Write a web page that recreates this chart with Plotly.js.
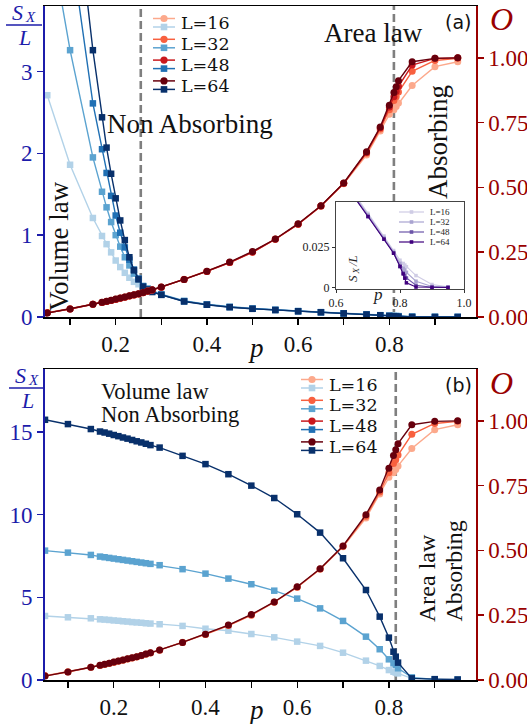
<!DOCTYPE html>
<html><head><meta charset="utf-8">
<script src="https://cdn.plot.ly/plotly-3.0.1.min.js"></script>
<style>html,body{margin:0;padding:0;background:#fff}</style>
</head><body><div id="chart" style="width:527px;height:724px"></div>
<script>
// ---------------- data ----------------
const p = [0.05, 0.1, 0.15, 0.17, 0.18, 0.19, 0.2, 0.21, 0.22, 0.23, 0.24, 0.25, 0.26, 0.27, 0.28,
           0.3, 0.35, 0.4, 0.45, 0.5, 0.55, 0.6, 0.65, 0.7, 0.75, 0.78, 0.8, 0.81, 0.815, 0.82, 0.85, 0.9, 0.95];
const seriesLabels = ['L=16', 'L=32', 'L=48', 'L=64'];

// order parameter O (both panels)
const O_L16 = [0.017, 0.032, 0.049, 0.057, 0.061, 0.065, 0.069, 0.073, 0.077, 0.081, 0.085, 0.09, 0.095, 0.1, 0.105,
               0.116, 0.146, 0.177, 0.211, 0.251, 0.301, 0.358, 0.427, 0.514, 0.625, 0.718, 0.782, 0.8, 0.812, 0.826, 0.893, 0.966, 0.985];
const O_L32 = [0.016, 0.031, 0.049, 0.056, 0.06, 0.064, 0.068, 0.072, 0.076, 0.081, 0.085, 0.089, 0.094, 0.099, 0.104,
               0.115, 0.145, 0.176, 0.21, 0.25, 0.3, 0.358, 0.428, 0.516, 0.632, 0.725, 0.8, 0.835, 0.85, 0.868, 0.948, 0.99, 0.998];
const O_L48 = [0.016, 0.031, 0.049, 0.056, 0.06, 0.064, 0.068, 0.072, 0.076, 0.081, 0.085, 0.089, 0.094, 0.099, 0.104,
               0.115, 0.145, 0.176, 0.21, 0.25, 0.3, 0.358, 0.428, 0.516, 0.635, 0.73, 0.81, 0.85, 0.87, 0.89, 0.972, 0.998, 1.0];
const O_L64 = [0.015, 0.031, 0.049, 0.057, 0.061, 0.065, 0.069, 0.073, 0.077, 0.082, 0.086, 0.09, 0.095, 0.1, 0.105,
               0.116, 0.145, 0.177, 0.212, 0.253, 0.301, 0.36, 0.429, 0.517, 0.638, 0.733, 0.817, 0.866, 0.888, 0.912, 0.985, 0.998, 1.0];

// panel (a): S_X/L
const Sa_L16 = [2.71, 1.86, 1.21, 0.99, 0.89, 0.79, 0.69, 0.61, 0.54, 0.48, 0.43, 0.4, 0.375, 0.35, 0.325,
                0.28, 0.2, 0.156, 0.125, 0.104, 0.088, 0.073, 0.06, 0.046, 0.032, 0.023, 0.017, 0.015, 0.014, 0.013, 0.0075, 0.002, 0.0005];
const Sa_L32 = [4.85, 3.26, 1.95, 1.53, 1.34, 1.16, 1.0, 0.86, 0.73, 0.63, 0.53, 0.46, 0.38, 0.345, 0.315,
                0.275, 0.195, 0.153, 0.123, 0.102, 0.087, 0.072, 0.059, 0.045, 0.031, 0.022, 0.015, 0.012, 0.011, 0.0095, 0.004, 0.0008, 0.0003];
const Sa_L48 = [7.6, 4.6, 2.61, 2.05, 1.76, 1.48, 1.24, 1.03, 0.85, 0.7, 0.58, 0.47, 0.375, 0.34, 0.31,
                0.272, 0.192, 0.151, 0.121, 0.101, 0.086, 0.071, 0.058, 0.044, 0.03, 0.0215, 0.013, 0.009, 0.0075, 0.006, 0.0015, 0.0003, 0.0002];
const Sa_L64 = [9.0, 5.7, 3.26, 2.44, 2.07, 1.75, 1.45, 1.18, 0.94, 0.73, 0.57, 0.46, 0.37, 0.335, 0.305,
                0.27, 0.19, 0.15, 0.12, 0.1, 0.085, 0.07, 0.058, 0.044, 0.03, 0.0213, 0.0132, 0.0085, 0.0059, 0.003, 0.0004, 0.0002, 0.0001];

// panel (b): S_X/L
const Sb_L16 = [3.87, 3.79, 3.73, 3.67, 3.65, 3.63, 3.6, 3.58, 3.55, 3.53, 3.5, 3.48, 3.46, 3.43, 3.41,
                3.37, 3.27, 3.1, 2.98, 2.78, 2.58, 2.32, 2.06, 1.65, 1.17, 0.85, 0.6, 0.5, 0.45, 0.4, 0.1, 0.05, 0.02];
const Sb_L32 = [7.82, 7.7, 7.56, 7.46, 7.42, 7.38, 7.34, 7.3, 7.26, 7.22, 7.18, 7.14, 7.1, 7.06, 7.02,
                6.94, 6.7, 6.43, 6.13, 5.79, 5.4, 4.92, 4.33, 3.57, 2.62, 1.86, 1.25, 1.01, 0.91, 0.71, 0.16, 0.03, 0.02];
const Sb_L64 = [15.73, 15.47, 15.17, 15.02, 14.96, 14.89, 14.81, 14.74, 14.66, 14.59, 14.51, 14.43, 14.36, 14.28, 14.2,
                14.05, 13.55, 13.05, 12.44, 11.75, 11.0, 10.02, 8.91, 7.36, 5.44, 3.83, 2.56, 1.71, 1.41, 1.05, 0.1, 0.05, 0.03];

const xTickLabels = ['0.2', '0.4', '0.6', '0.8'];
const oTicks = [0, 0.25, 0.5, 0.75, 1.0];
const oTickText = ['0.00', '0.25', '0.50', '0.75', '1.00'];
const pCritA = [0.255, 0.81];
const pCritB = [0.815];

// ---------------- styling ----------------
const REDS = ['#fca98c', '#f8603f', '#c9181d', '#67000d'];
const BLUES = ['#b2d2e8', '#5ba3d0', '#2070b4', '#08306b'];
const PURPLES = ['#cfcce5', '#a9a3d0', '#6c55a8', '#3f007d'];
const BLUE_AX = '#1c1caa';
const RED_AX = '#990000';
const SERIF = 'Liberation Serif, Times New Roman, serif';
const LEGSERIF = 'DejaVu Serif, serif';
const W = 527, H = 724, ML = 45, MR = 51, MT = 6, MB = 44;
const PW = W - ML - MR, PH = H - MT - MB;
const X = px => (px - ML) / PW;
const Y = py => (H - MB - py) / PH;

function tr(x, y, xa, ya, color, symbol, size, width) {
  return {x: x, y: y, xaxis: xa, yaxis: ya, type: 'scatter', mode: 'lines+markers',
    line: {color: color, width: width}, marker: {color: color, symbol: symbol, size: size, line: {width: 0}},
    showlegend: false, hoverinfo: 'skip', cliponaxis: true};
}

const OA = [O_L16, O_L32, O_L48, O_L64];
const SA = [Sa_L16, Sa_L32, Sa_L48, Sa_L64];
const traces = [];
SA.forEach((s, i) => traces.push(tr(p, s, 'x', 'y', BLUES[i], 'square', 6.5, 1.4)));
OA.forEach((o, i) => traces.push(tr(p, o, 'x', 'y2', REDS[i], 'circle', 7, 1.4)));
[[Sb_L16, 0], [Sb_L32, 1], [Sb_L64, 3]].forEach(([s, i]) => traces.push(tr(p, s, 'x2', 'y3', BLUES[i], 'square', 6.5, 1.4)));
[[O_L16, 0], [O_L32, 1], [O_L64, 3]].forEach(([o, i]) => traces.push(tr(p, o, 'x2', 'y4', REDS[i], 'circle', 7, 1.4)));
SA.forEach((s, i) => traces.push(tr(p, s, 'x3', 'y5', PURPLES[i], 'square', 3.5, 1.1)));

function xax(domain, anchor, range) {
  return {domain: domain, anchor: anchor, range: range, tickmode: 'array', tickvals: xTickLabels.map(Number), ticktext: xTickLabels,
    ticks: 'outside', ticklen: 6, tickwidth: 1.3, tickcolor: '#000',
    minor: {dtick: 0.1, tick0: 0, ticks: 'outside', ticklen: 6, tickwidth: 1.3, tickcolor: '#000', showgrid: false},
    showline: true, linecolor: '#000', linewidth: 1.5,
    mirror: true, showgrid: false, zeroline: false, tickfont: {family: SERIF, size: 23, color: '#111'}, fixedrange: true};
}
function yl(domain, anchor, range, tv) {
  return {domain: domain, anchor: anchor, range: range, tickmode: 'array', tickvals: tv,
    ticks: 'outside', ticklen: 6, tickwidth: 1.5, tickcolor: BLUE_AX, showline: true, linecolor: BLUE_AX, linewidth: 2,
    showgrid: false, zeroline: false, tickfont: {family: SERIF, size: 23, color: BLUE_AX}, fixedrange: true};
}
function yr(over, anchor) {
  return {overlaying: over, anchor: anchor, side: 'right', range: [0, 1.2], tickmode: 'array', tickvals: oTicks, ticktext: oTickText,
    ticks: 'outside', ticklen: 6, tickwidth: 1.5, tickcolor: RED_AX, showline: true, linecolor: RED_AX, linewidth: 1.6,
    showgrid: false, zeroline: false, tickfont: {family: SERIF, size: 23, color: RED_AX}, fixedrange: true};
}

const domA = [Y(317), 1], domB = [0, Y(369)];
const layout = {
  width: W, height: H, margin: {l: ML, r: MR, t: MT, b: MB, pad: 0}, showlegend: false,
  paper_bgcolor: '#fff', plot_bgcolor: 'rgba(0,0,0,0)',
  xaxis: xax([0, 1], 'y', [0.045, 0.99]),
  yaxis: yl(domA, 'x', [0, 3.8], [0, 1, 2, 3]),
  yaxis2: yr('y', 'x'),
  xaxis2: xax([0, 1], 'y3', [0.05, 0.99]),
  yaxis3: yl(domB, 'x2', [0, 18.8], [0, 5, 10, 15]),
  yaxis4: yr('y3', 'x2'),
  xaxis3: {domain: [X(336), X(464)], anchor: 'y5', range: [0.6, 1.0], tickmode: 'array', tickvals: [0.6, 0.8, 1.0],
    ticktext: ['0.6', '0.8', '1.0'], ticks: 'outside', ticklen: 3, tickcolor: '#333', showline: true, linecolor: '#444',
    linewidth: 1, mirror: true, showgrid: false, zeroline: false, tickfont: {family: SERIF, size: 12, color: '#222'}, fixedrange: true},
  yaxis5: {domain: [Y(289), Y(202)], anchor: 'x3', range: [-0.0008, 0.053], tickmode: 'array', tickvals: [0, 0.025],
    ticktext: ['0', '0.025'], ticks: 'outside', ticklen: 3, tickcolor: '#333', showline: true, linecolor: '#444',
    linewidth: 1, mirror: true, showgrid: false, zeroline: false, tickfont: {family: SERIF, size: 12, color: '#222'}, fixedrange: true},
  shapes: [], annotations: []
};

const dash = {color: '#7f7f7f', width: 2.6, dash: '8px,4px'};
layout.shapes.push({type: 'line', xref: 'x', yref: 'paper', x0: pCritA[0], x1: pCritA[0], y0: domA[0], y1: domA[1], line: dash, layer: 'below'});
layout.shapes.push({type: 'line', xref: 'x', yref: 'paper', x0: pCritA[1], x1: pCritA[1], y0: domA[0], y1: Y(289), line: dash, layer: 'below'});
layout.shapes.push({type: 'line', xref: 'x', yref: 'paper', x0: pCritA[1], x1: pCritA[1], y0: Y(202), y1: domA[1], line: dash, layer: 'below'});
layout.shapes.push({type: 'line', xref: 'x2', yref: 'paper', x0: pCritB[0], x1: pCritB[0], y0: domB[0], y1: domB[1], line: dash, layer: 'below'});

function ann(text, px, py, opts) {
  const a = Object.assign({text: text, x: X(px), y: Y(py), xref: 'paper', yref: 'paper', showarrow: false,
    xanchor: 'center', yanchor: 'middle', borderpad: 0, font: {family: SERIF, size: 27, color: '#111'}}, opts || {});
  layout.annotations.push(a);
}
function marker(type, px, py, half, color) {
  layout.shapes.push({type: type, xref: 'paper', yref: 'paper', xsizemode: 'pixel', ysizemode: 'pixel',
    xanchor: X(px), yanchor: Y(py), x0: -half, x1: half, y0: -half, y1: half, fillcolor: color, line: {width: 0}});
}
function hline(x0, x1, py, color, w) {
  layout.shapes.push({type: 'line', xref: 'paper', yref: 'paper', x0: X(x0), x1: X(x1), y0: Y(py), y1: Y(py), line: {color: color, width: w}});
}

// legends for main panels
function mainLegend(lx0, lx1, tx, y0, gap, labels, idx) {
  idx.forEach((i, k) => {
    const yc = y0 + gap * k, ys = yc + 8.5, mx = (lx0 + lx1) / 2;
    hline(lx0, lx1, yc, REDS[i], 1.5); marker('circle', mx, yc, 3.6, REDS[i]);
    hline(lx0, lx1, ys, BLUES[i], 1.5); marker('rect', mx, ys, 3.3, BLUES[i]);
    ann(labels[i], tx, yc + 5, {xanchor: 'left', font: {family: LEGSERIF, size: 17.5, color: '#111'}});
  });
}
mainLegend(153, 175, 180, 18.5, 20.8, seriesLabels, [0, 1, 2, 3]);
mainLegend(301, 323, 328, 379.5, 20.8, seriesLabels, [0, 1, 2, 3]);
// inset legend
[0, 1, 2, 3].forEach(k => {
  const yc = 212 + 10 * k;
  hline(399, 424, yc, PURPLES[k], 1.2); marker('rect', 411.5, yc, 1.8, PURPLES[k]);
  ann(seriesLabels[k], 429, yc, {xanchor: 'left', font: {family: SERIF, size: 9, color: '#222'}});
});

// fraction label S_X / L
function fracLabel(x0, yTop) {
  ann('<i>S</i>', x0 + 11, yTop + 6.5, {font: {family: SERIF, size: 22, color: BLUE_AX}});
  ann('<i>X</i>', x0 + 24, yTop + 11, {font: {family: SERIF, size: 15, color: BLUE_AX}});
  hline(x0, x0 + 36, yTop + 19, BLUE_AX, 1.5);
  ann('<i>L</i>', x0 + 18, yTop + 31.5, {font: {family: SERIF, size: 22, color: BLUE_AX}});
}

// panel (a) texts
ann('Volume law', 59, 246, {textangle: -90});
ann('Non Absorbing', 106, 124, {xanchor: 'left'});
ann('Area law', 373, 33);
ann('Absorbing', 438, 142, {textangle: -90});
ann('(a)', 458, 22, {font: {family: 'DejaVu Sans, sans-serif', size: 19, color: '#111'}});
ann('<i>p</i>', 256, 348, {font: {family: SERIF, size: 27, color: '#111'}});
ann('<i>O</i>', 501, 19, {font: {family: SERIF, size: 32, color: RED_AX}});
fracLabel(6, 6);
// inset labels (rotated S_X/L)
ann('<i>S</i>', 352, 279, {textangle: -90, font: {family: SERIF, size: 13, color: '#222'}});
ann('<i>X</i>', 355, 271.5, {textangle: -90, font: {family: SERIF, size: 9, color: '#222'}});
ann('<i>/L</i>', 352, 261, {textangle: -90, font: {family: SERIF, size: 13, color: '#222'}});
ann('<i>p</i>', 378, 294, {font: {family: SERIF, size: 17, color: '#222'}});

// panel (b) texts
ann('Volume law', 100, 391.5, {xanchor: 'left', font: {family: SERIF, size: 22.5, color: '#111'}});
ann('Non Absorbing', 100, 414.5, {xanchor: 'left', font: {family: SERIF, size: 22.5, color: '#111'}});
ann('Area law', 427, 623, {textangle: -90, yanchor: 'bottom', font: {family: SERIF, size: 24, color: '#111'}});
ann('Absorbing', 453, 623, {textangle: -90, yanchor: 'bottom', font: {family: SERIF, size: 24, color: '#111'}});
ann('(b)', 458, 385, {font: {family: 'DejaVu Sans, sans-serif', size: 19, color: '#111'}});
ann('<i>p</i>', 256, 710, {font: {family: SERIF, size: 27, color: '#111'}});
ann('<i>O</i>', 501, 383, {font: {family: SERIF, size: 32, color: RED_AX}});
fracLabel(9, 369);

Plotly.newPlot('chart', traces, layout, {staticPlot: true, displayModeBar: false});
</script></body></html>
